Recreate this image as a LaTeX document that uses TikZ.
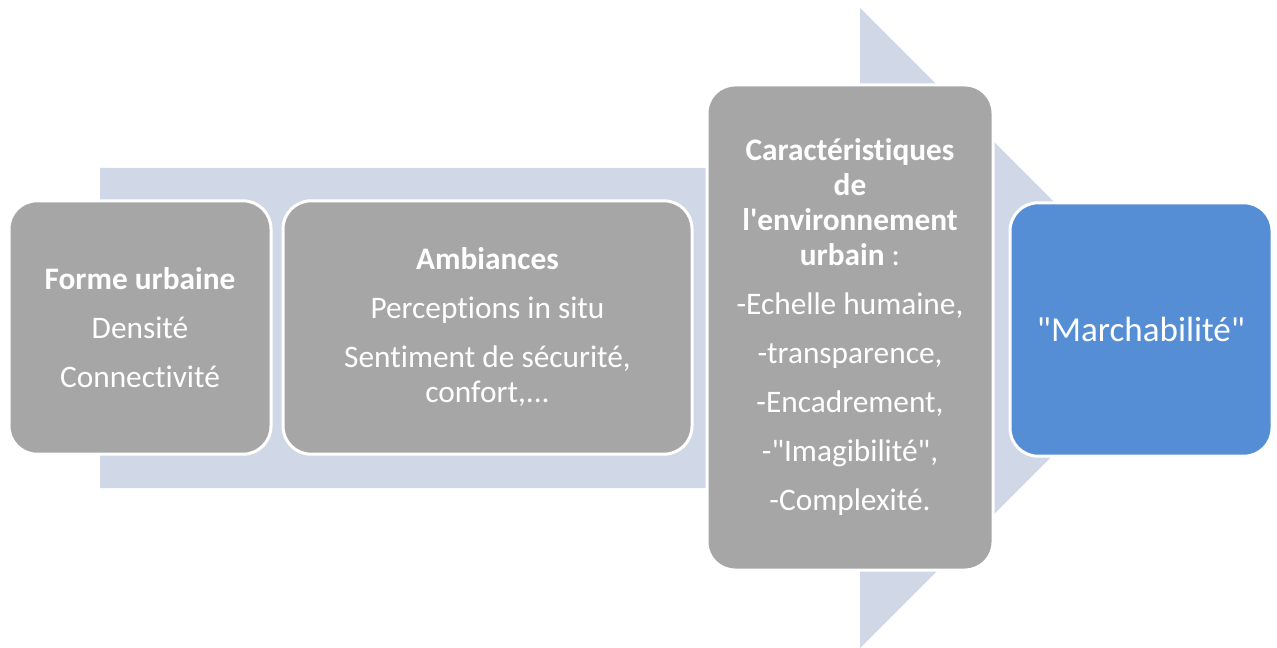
\documentclass[tikz,border=0pt]{standalone}
\usepackage{fontspec}
\setmainfont{Carlito}[Ligatures={TeXOff,CommonOff}]
\usetikzlibrary{positioning,calc}

\definecolor{flecheclr}{RGB}{208,216,232}
\definecolor{grisclr}{RGB}{166,166,166}
\definecolor{bleuclr}{RGB}{85,142,213}

\tikzset{
  etape/.style={draw=white, line width=2.25pt, rounded corners=21pt, fill=grisclr,
    text=white, align=center, inner sep=2pt,
    font=\fontsize{23.5}{26.25}\selectfont},
  resultat/.style={etape, fill=bleuclr, font=\fontsize{26.3}{30}\selectfont}
}

\begin{document}
\begin{tikzpicture}[x=0.75pt, y=-0.75pt, line join=round]
\useasboundingbox (0,0) rectangle (1277,648);
% grande fleche de fond
\fill[flecheclr] (100,168) -- (860,168) -- (860,8) -- (1180,328) -- (860,648) -- (860,488) -- (100,488) -- cycle;
% etapes
\node[etape, minimum width=196.5pt, minimum height=190pt] (forme) at (140,327.5)
  {\textbf{Forme urbaine}\\[10.5pt] Densité\\[10.5pt] Connectivité};
\node[etape, minimum width=306.75pt, minimum height=190pt] (ambiances) at (487.5,327.5)
  {\textbf{Ambiances}\\[10.5pt] Perceptions in situ\\[10.5pt] Sentiment de sécurité,\\ confort,...};
\node[etape, minimum width=214.5pt, minimum height=363.75pt] (caract) at (850,327.5)
  {\textbf{Caractéristiques}\\ \textbf{de}\\ \textbf{l'environnement}\\ \textbf{urbain} :\\[10.5pt]
   -Echelle humaine,\\[10.5pt] -transparence,\\[10.5pt] -Encadrement,\\[10.5pt] -"Imagibilité",\\[10.5pt] -Complexité.};
\node[resultat, minimum width=196.5pt, minimum height=190pt] (marche) at (1141,329.5)
  {"Marchabilité"};
\end{tikzpicture}
\end{document}
